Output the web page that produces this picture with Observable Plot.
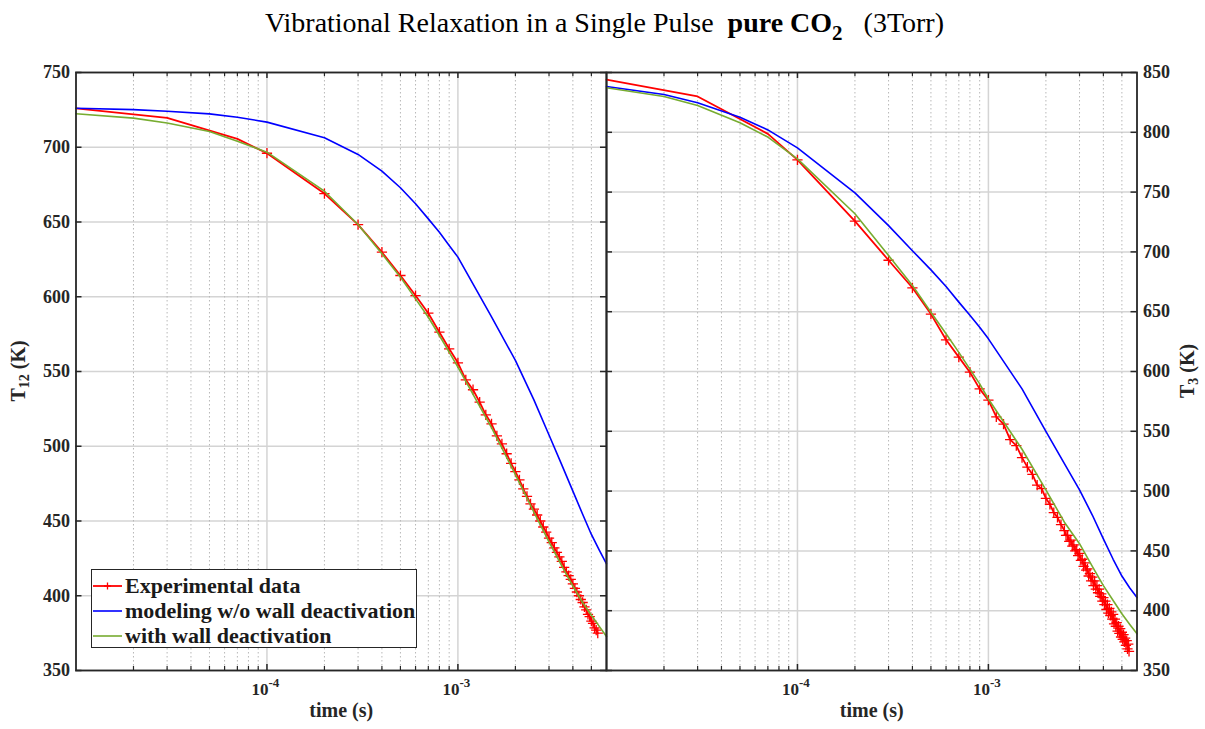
<!DOCTYPE html>
<html>
<head>
<meta charset="utf-8">
<script src="https://cdn.jsdelivr.net/npm/d3@7"></script>
<script src="https://cdn.jsdelivr.net/npm/@observablehq/plot@0.6"></script>
<style>
  body { margin: 0; background: #fff; }
  #wrap { position: relative; width: 1205px; height: 729px; overflow: hidden; background: #fff; font-family: "Liberation Serif", "Times New Roman", serif; color: #262626; }
  #wrap svg { position: absolute; top: 0; }
  #title { position: absolute; left: 2px; top: 9px; width: 1205px; text-align: center; font-size: 28px; line-height: 27px; color: #000; white-space: pre; }
  #title .sub { font-size: 21px; position: relative; top: 8px; }
  .ylab { position: absolute; font-weight: bold; font-size: 20px; line-height: 20px; white-space: nowrap; transform: translate(-50%, -50%) rotate(-90deg); color: #262626; }
  .ylab sub { font-size: 14px; line-height: 0; vertical-align: -4px; }
  #legend { position: absolute; left: 91px; top: 569px; width: 326px; height: 79px; box-sizing: border-box; border: 1.5px solid #262626; background: #fff; font-weight: bold; font-size: 22px; color: #1a1a1a; }
  #legend .row { position: absolute; left: 0; height: 25px; display: flex; align-items: center; white-space: nowrap; }
  #legend svg { position: static; margin-left: 1px; margin-right: 2px; }
</style>
</head>
<body>
<div id="wrap">
  <div id="title">Vibrational Relaxation in a Single Pulse  <b>pure CO<span class="sub">2</span></b>   (3Torr)</div>
</div>
<script>
// ---------------- data ----------------
const xDomain = [1e-5, 6e-3];
const decadeTicks = [1e-4, 1e-3];
const decadeExponents = ["-4", "-3"];
const minorTicks = [2e-5, 3e-5, 4e-5, 5e-5, 6e-5, 7e-5, 8e-5, 9e-5,
                    2e-4, 3e-4, 4e-4, 5e-4, 6e-4, 7e-4, 8e-4, 9e-4,
                    2e-3, 3e-3, 4e-3, 5e-3];
const yTicks12 = [350, 400, 450, 500, 550, 600, 650, 700, 750];
const yTicks3 = [350, 400, 450, 500, 550, 600, 650, 700, 750, 800, 850];

const seriesNames = ["Experimental data", "modeling w/o wall deactivation", "with wall deactivation"];
const seriesColors = ["#ff0000", "#0000ff", "#77ac30"];

// model time grid (s)
const modelTime = [1e-5, 2e-5, 3e-5, 5e-5, 7e-5, 1e-4, 2e-4, 3e-4, 4e-4, 5e-4, 6e-4, 7e-4, 8e-4, 9e-4,
                   1e-3, 1.5e-3, 2e-3, 2.5e-3, 3e-3, 3.5e-3, 4e-3, 4.5e-3, 5e-3, 5.5e-3, 6e-3];
const noWallT12 = [726.1, 725.2, 724.1, 722.3, 720.1, 716.8, 706.3, 695.2, 684.0, 672.9, 662.2, 652.1, 643.2, 634.3,
                   626.5, 586.5, 557.4, 531.0, 507.5, 487.5, 470.0, 454.5, 441.0, 430.5, 421.4];
const wallT12   = [722.4, 719.5, 716.2, 710.5, 704.0, 696.7, 670.6, 648.3, 628.7, 613.1, 598.6, 586.3, 574.1, 563.0,
                   552.9, 512.5, 481.0, 456.0, 436.0, 420.0, 406.5, 395.5, 387.0, 379.5, 372.7];
const noWallT3  = [838.3, 831.6, 824.7, 812.6, 802.0, 787.0, 749.4, 722.0, 701.0, 685.0, 671.0, 658.0, 647.0, 637.0,
                   627.3, 585.5, 550.0, 523.0, 501.0, 480.0, 460.0, 443.0, 429.0, 419.0, 411.0];
const wallT3    = [837.2, 830.0, 822.4, 808.0, 796.0, 777.8, 731.9, 697.0, 672.0, 649.6, 631.5, 616.0, 602.0, 589.7,
                   577.0, 535.0, 501.0, 474.0, 456.0, 437.0, 421.0, 408.5, 397.4, 388.5, 380.7];

// experimental data (time in ms)
const markerStartMs = 0.1;
const expTimeMs12 = [0.01, 0.03, 0.07,
  0.1, 0.2, 0.3, 0.4, 0.5, 0.6, 0.7, 0.8, 0.9, 1.0,
  1.1, 1.2, 1.3, 1.4, 1.5, 1.6, 1.7, 1.8, 1.9, 2.0,
  2.1, 2.2, 2.3, 2.4, 2.5, 2.6, 2.7, 2.8, 2.9, 3.0,
  3.1, 3.2, 3.3, 3.4, 3.5, 3.6, 3.7, 3.8, 3.9, 4.0,
  4.1, 4.2, 4.3, 4.4, 4.5, 4.6, 4.7, 4.8, 4.9, 5.0,
  5.1, 5.2, 5.3, 5.4];
const expT12 = [726.0, 719.7, 705.6,
  696.0, 669.0, 648.3, 629.8, 614.2, 600.8, 589.0, 576.3, 565.2, 555.8,
  544.4, 537.8, 529.5, 521.0, 515.0, 507.0, 501.6, 495.0, 488.5, 483.0,
  477.5, 471.5, 466.5, 461.5, 458.0, 454.0, 450.0, 446.0, 442.5, 438.5,
  435.5, 432.0, 429.0, 426.0, 423.0, 419.0, 416.0, 413.5, 411.0, 408.0,
  405.0, 402.5, 400.0, 397.5, 395.5, 392.5, 390.5, 387.5, 386.0, 383.0,
  381.5, 378.5, 377.0, 375.0];

const expTimeMs3 = [0.01, 0.03, 0.07,
  0.1, 0.2, 0.3, 0.4, 0.5, 0.6, 0.7, 0.8, 0.9, 1.0,
  1.1, 1.2, 1.3, 1.4, 1.5, 1.6, 1.7, 1.8, 1.9, 2.0,
  2.1, 2.2, 2.3, 2.4,
  2.50, 2.55, 2.60, 2.65, 2.70, 2.75, 2.80, 2.85, 2.90, 2.95,
  3.00, 3.05, 3.10, 3.15, 3.20, 3.25, 3.30, 3.35, 3.40, 3.45,
  3.50, 3.55, 3.60, 3.65, 3.70, 3.75, 3.80, 3.85, 3.90, 3.95,
  4.00, 4.05, 4.10, 4.15, 4.20, 4.25, 4.30, 4.35, 4.40, 4.45,
  4.50, 4.55, 4.60, 4.65, 4.70, 4.75, 4.80, 4.85, 4.90, 4.95,
  5.00, 5.05, 5.10, 5.15, 5.20, 5.25, 5.30, 5.35, 5.40, 5.45];
const expT3 = [844.0, 830.0, 798.7,
  777.0, 725.7, 693.0, 670.0, 648.0, 626.5, 612.0, 599.4, 585.5, 576.0,
  562.0, 556.0, 543.0, 538.0, 528.0, 520.0, 514.0, 505.0, 502.0, 494.0,
  489.0, 482.0, 478.0, 472.0,
  467, 463, 463, 458, 459, 454, 455, 450, 451, 446,
  448, 442, 443, 437, 440, 434, 435, 429, 431, 425,
  428, 421, 425, 418, 421, 415, 418, 412, 414, 408,
  411, 405, 408, 401, 405, 398, 402, 396, 399, 393,
  397, 389, 393, 387, 390, 383, 387, 381, 385, 378,
  382, 376, 380, 374, 377, 371, 375, 368, 372, 366];

// ---------------- drawing ----------------
const TOP = 72, BOTTOM = 670, H = BOTTOM - TOP;
const LEFT = 75.5, MID = 606, RIGHT = 1136.5, W = MID - LEFT;
const FONT = '"Liberation Serif", "Times New Roman", serif';

function panel({times, vals, blue, green, yDomain, yTicks, side}) {
  const exp = times.map((ms, i) => ({t: ms / 1000, v: vals[i], mark: ms >= markerStartMs}));
  const mB = modelTime.map((t, i) => ({t, v: blue[i]}));
  const mG = modelTime.map((t, i) => ({t, v: green[i]}));
  const dec = decadeTicks.map((t, i) => ({t, e: decadeExponents[i]}));
  const isLeft = side === "left";
  const width = isLeft ? MID : 1205 - MID;
  const svg = Plot.plot({
    width, height: 729,
    marginTop: TOP, marginBottom: 729 - BOTTOM,
    marginLeft: isLeft ? LEFT : 0,
    marginRight: isLeft ? 0 : width - (RIGHT - MID),
    x: {type: "log", domain: xDomain, axis: null},
    y: {domain: yDomain},
    style: {fontFamily: FONT, fontSize: "18px", fontWeight: "bold", color: "#262626", background: "transparent", overflow: "visible"},
    marks: [
      Plot.ruleY(yTicks, {y: Plot.identity, stroke: "#d4d4d4", strokeWidth: 1.5}),
      Plot.ruleX(minorTicks, {x: Plot.identity, stroke: "#b8b8b8", strokeWidth: 1, strokeDasharray: "1.5,2.5"}),
      Plot.ruleX(decadeTicks, {x: Plot.identity, stroke: "#d4d4d4", strokeWidth: 1.5}),
      Plot.tickX(minorTicks, {x: Plot.identity, insetTop: H - 4, stroke: "#262626", strokeWidth: 1.2}),
      Plot.tickX(minorTicks, {x: Plot.identity, insetBottom: H - 4, stroke: "#262626", strokeWidth: 1.2}),
      Plot.tickX(decadeTicks, {x: Plot.identity, insetTop: H - 6, stroke: "#262626", strokeWidth: 1.5}),
      Plot.tickX(decadeTicks, {x: Plot.identity, insetBottom: H - 6, stroke: "#262626", strokeWidth: 1.5}),
      Plot.tickY(yTicks, {y: Plot.identity, insetRight: W - 6, stroke: "#262626", strokeWidth: 1.5}),
      Plot.tickY(yTicks, {y: Plot.identity, insetLeft: W - 6, stroke: "#262626", strokeWidth: 1.5}),
      Plot.line(exp, {x: "t", y: "v", stroke: seriesColors[0], strokeWidth: 1.8}),
      Plot.dot(exp.filter(d => d.mark), {x: "t", y: "v", symbol: "plus", r: 3.4, stroke: seriesColors[0], strokeWidth: 1.3}),
      Plot.line(mB, {x: "t", y: "v", stroke: seriesColors[1], strokeWidth: 1.6}),
      Plot.line(mG, {x: "t", y: "v", stroke: seriesColors[2], strokeWidth: 1.6}),
      Plot.axisY(yTicks, {anchor: side, tickSize: 0, tickPadding: 6, label: null, fontSize: 18}),
      // x tick labels: 10 with superscript exponent
      Plot.text(dec, {x: "t", text: () => "10", frameAnchor: "bottom", dy: 24, dx: -7, fontSize: 17, fontWeight: "bold", fill: "#262626"}),
      Plot.text(dec, {x: "t", text: "e", frameAnchor: "bottom", dy: 16, dx: 7, fontSize: 13, fontWeight: "bold", fill: "#262626"}),
      Plot.frame({stroke: "#262626", strokeWidth: 1.8}),
      Plot.text(["time (s)"], {text: d => d, frameAnchor: "bottom", dy: 46, fontSize: 20, fontWeight: "bold", fill: "#262626"})
    ]
  });
  svg.style.left = (isLeft ? 0 : MID) + "px";
  return svg;
}

const wrap = document.getElementById("wrap");
wrap.appendChild(panel({times: expTimeMs12, vals: expT12, blue: noWallT12, green: wallT12, yDomain: [350, 750], yTicks: yTicks12, side: "left"}));
wrap.appendChild(panel({times: expTimeMs3, vals: expT3, blue: noWallT3, green: wallT3, yDomain: [350, 850], yTicks: yTicks3, side: "right"}));

// y-axis titles
function ylab(html, x, y) {
  const d = document.createElement("div");
  d.className = "ylab";
  d.innerHTML = html;
  d.style.left = x + "px";
  d.style.top = y + "px";
  wrap.appendChild(d);
}
ylab("T<sub>12</sub> (K)", 18, 371);
ylab("T<sub>3</sub> (K)", 1187, 371);

// legend
const legend = document.createElement("div");
legend.id = "legend";
seriesNames.forEach((name, i) => {
  const row = document.createElement("div");
  row.className = "row";
  row.style.top = (3 + i * 25) + "px";
  const ns = "http://www.w3.org/2000/svg";
  const s = document.createElementNS(ns, "svg");
  s.setAttribute("width", 30); s.setAttribute("height", 20);
  const ln = document.createElementNS(ns, "line");
  ln.setAttribute("x1", 0); ln.setAttribute("x2", 29); ln.setAttribute("y1", 10); ln.setAttribute("y2", 10);
  ln.setAttribute("stroke", seriesColors[i]); ln.setAttribute("stroke-width", i === 0 ? 1.8 : 1.6);
  s.appendChild(ln);
  if (i === 0) {
    const p = document.createElementNS(ns, "path");
    p.setAttribute("d", "M14.5,6.5V13.5M11,10H18");
    p.setAttribute("stroke", seriesColors[0]); p.setAttribute("stroke-width", 1.3);
    s.appendChild(p);
  }
  row.appendChild(s);
  const sp = document.createElement("span");
  sp.textContent = name;
  row.appendChild(sp);
  legend.appendChild(row);
});
wrap.appendChild(legend);
</script>
</body>
</html>
